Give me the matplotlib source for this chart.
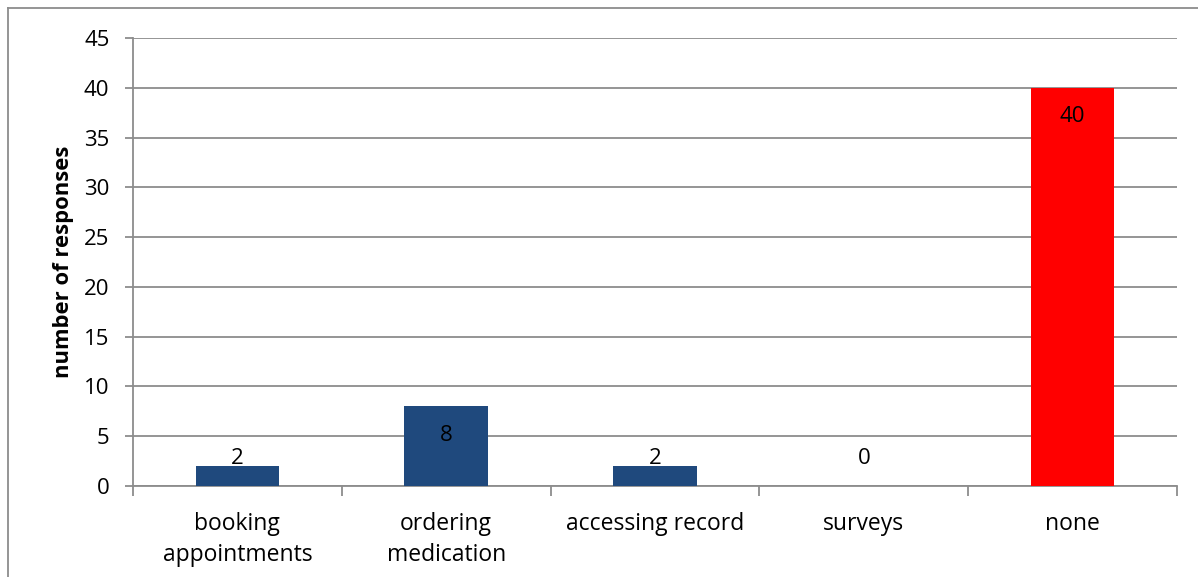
import matplotlib
matplotlib.use("Agg")
import matplotlib.pyplot as plt
from matplotlib.lines import Line2D
import numpy as np

categories = ["booking\nappointments", "ordering\nmedication", "accessing record", "surveys", "none"]
values = [2, 8, 2, 0, 40]
bar_colors = ["#1F497D", "#1F497D", "#1F497D", "#1F497D", "#FF0000"]
y_ticks = [0, 5, 10, 15, 20, 25, 30, 35, 40, 45]

plt.rcParams['font.family'] = ['Open Sans', 'DejaVu Sans']

W, H = 1198, 577
fig = plt.figure(figsize=(W / 100, H / 100), dpi=100)
ax = fig.add_axes([133 / W, 1 - 486 / H, (1177 - 133) / W, (486 - 38) / H])

x = np.arange(len(categories))
ax.bar(x, values, width=0.4, color=bar_colors, zorder=3)

ax.set_xlim(-0.5, len(categories) - 0.5)
ax.set_ylim(0, 45)
ax.set_yticks(y_ticks)
ax.set_yticklabels([str(t) for t in y_ticks], fontsize=16)
ax.yaxis.grid(True, color="#8c8c8c", linewidth=1.3, zorder=0)

ax.set_xticks(x)
ax.set_xticklabels(categories, fontsize=16.5, linespacing=1.38)
ax.set_xticks(np.arange(len(categories) + 1) - 0.5, minor=True)
ax.tick_params(axis='x', which='major', length=0, pad=19)
ax.tick_params(axis='x', which='minor', length=7, width=1.3, color="#8c8c8c", direction='out')
ax.tick_params(axis='y', length=6, width=1.3, color="#8c8c8c", direction='out', pad=11)

for s in ["top", "right"]:
    ax.spines[s].set_visible(False)
for s in ["left", "bottom"]:
    ax.spines[s].set_color("#8c8c8c")
    ax.spines[s].set_linewidth(1.3)

ax.set_ylabel("number of responses", fontsize=15.8, fontweight="bold", labelpad=7)

# data labels: inside end, overflowing for small bars
threshold = 5.7
for xi, v in zip(x, values):
    ya = max(v, threshold)
    ax.annotate(str(v), xy=(xi, ya), xytext=(0, -21), textcoords="offset points",
                ha="center", va="center", fontsize=16, zorder=4)

# outer chart border (left and top visible)
fig.add_artist(Line2D([8 / W, 8 / W], [0, 1 - 8 / H], color="#8c8c8c", lw=1.3, transform=fig.transFigure))
fig.add_artist(Line2D([8 / W, 1], [1 - 8 / H, 1 - 8 / H], color="#8c8c8c", lw=1.3, transform=fig.transFigure))

fig.savefig("out.png", dpi=100)
